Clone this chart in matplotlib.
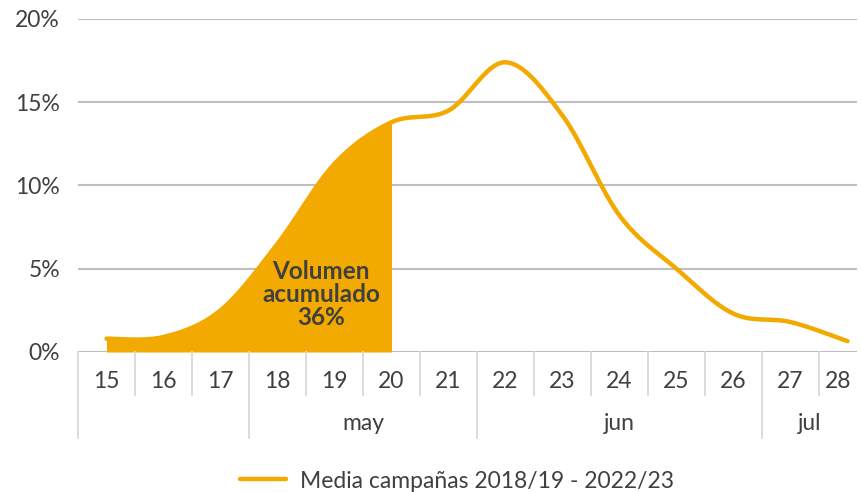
import numpy as np
import matplotlib
matplotlib.use('Agg')
import matplotlib.pyplot as plt

# semanas y valores (% del volumen semanal, media de campanas)
weeks = ['15', '16', '17', '18', '19', '20', '21', '22', '23', '24', '25', '26', '27', '28']
values = [0.8, 0.9, 2.5, 6.5, 11.3, 13.8, 14.5, 17.4, 14.2, 8.2, 5.0, 2.3, 1.8, 0.65]
months = ['', 'may', 'jun', 'jul']
month_len = [3, 4, 5, 2]
yticks = [0, 5, 10, 15, 20]
fill_until = 5   # hasta semana 20
label_text = 'Volumen\nacumulado\n36%'
legend_label = 'Media campañas 2018/19 - 2022/23'

orange = '#F2A900'
txt = '#404040'
fs = 16.5
plt.rcParams['font.family'] = ['Lato', 'DejaVu Sans']


def smooth(x, y, n=30):
    # bezier suavizado estilo Excel
    p = np.column_stack([x, y]).astype(float)
    pts = [p[0]] + list(p) + [p[-1]]
    out = []
    t = np.linspace(0, 1, n)[:, None]
    for i in range(1, len(pts) - 2):
        p0, p1, p2, p3 = pts[i - 1], pts[i], pts[i + 1], pts[i + 2]
        c1 = p1 + (p2 - p0) / 6
        c2 = p2 - (p3 - p1) / 6
        seg = (1 - t)**3 * p1 + 3 * (1 - t)**2 * t * c1 + 3 * (1 - t) * t**2 * c2 + t**3 * p2
        out.append(seg if i == 1 else seg[1:])
    out = np.vstack(out)
    return out[:, 0], out[:, 1]


W, H = 862, 492
fig = plt.figure(figsize=(W / 100, H / 100), dpi=100)
left, right, top, bottom = 78, 857, 19, 352
ax = fig.add_axes([left / W, (H - bottom) / H, (right - left) / W, (bottom - top) / H])
cat_w = 57.0
xmax = -0.5 + (right - left) / cat_w
ax.set_xlim(-0.5, xmax)
ax.set_ylim(0, 20)

for yv in yticks:
    ax.axhline(yv, color='#BFBFBF', lw=1.5, zorder=1)

x = np.arange(len(weeks))
sx, sy = smooth(x, values)
m = sx <= fill_until + 1e-9
ax.fill_between(sx[m], 0, sy[m], color=orange, lw=0, zorder=2)
ax.plot(sx, sy, color=orange, lw=3.2, solid_capstyle='round', zorder=3, label=legend_label)

ax.text(3.76, 3.45, label_text, ha='center', va='center', fontsize=17.5,
        fontweight='bold', color=txt, linespacing=1.0, zorder=4)

for s in ax.spines.values():
    s.set_visible(False)
ax.set_xticks([])
ax.set_yticks(yticks)
ax.set_yticklabels([f'{v}%' for v in yticks], fontsize=fs, color=txt)
ax.tick_params(axis='y', length=0, pad=13)

# ejes de categorias (semanas y meses)
trans = ax.get_xaxis_transform()
hpx = bottom - top
sep_col = '#D9D9D9'
y_week_sep = -43 / hpx
y_month_sep = -86 / hpx
y_week_lab = -29 / hpx
y_month_lab = -71 / hpx

bounds = np.cumsum([0] + month_len) - 0.5
for i in range(len(weeks) + 1):
    xb = i - 0.5
    if xb > xmax:
        continue
    low = y_month_sep if np.isclose(bounds, xb).any() else y_week_sep
    ax.plot([xb, xb], [0, low], transform=trans, color=sep_col, lw=1.3, clip_on=False)

for i, w in enumerate(weeks):
    xc = (i - 0.5 + min(i + 0.5, xmax)) / 2
    ax.text(xc, y_week_lab, w, transform=trans, ha='center', va='center', fontsize=fs, color=txt)

for j, mo in enumerate(months):
    xc = (bounds[j] + min(bounds[j + 1], xmax)) / 2
    ax.text(xc, y_month_lab, mo, transform=trans, ha='center', va='center', fontsize=fs, color=txt)

ax.legend(loc='center', bbox_to_anchor=(457 / W, 1 - 481 / H), bbox_transform=fig.transFigure,
          frameon=False, fontsize=fs, handlelength=2.0, handletextpad=0.6,
          labelcolor=txt)

fig.savefig('out.png', dpi=100)
